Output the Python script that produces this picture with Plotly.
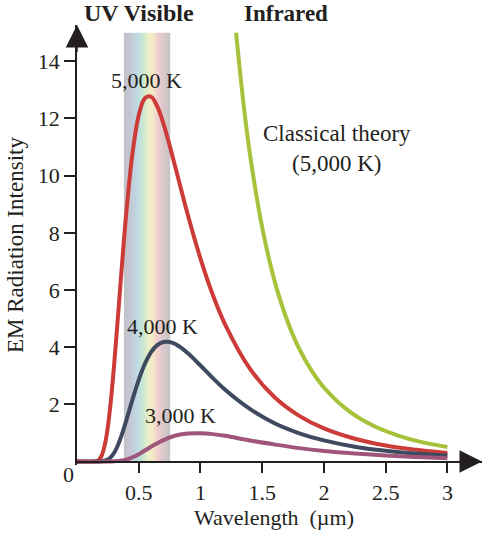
import plotly.graph_objects as go

# wavelengths (um) and intensities
wl_5000 = [0, 0.1, 0.15, 0.175, 0.2, 0.225, 0.25, 0.275, 0.3, 0.325, 0.35, 0.375, 0.4, 0.45, 0.5, 0.55,
           0.6, 0.65, 0.7, 0.75, 0.8, 0.9, 1.0, 1.1, 1.2, 1.4, 1.6, 1.8, 2.0, 2.25, 2.5, 2.75, 3.0]
int_5000 = [0, 0, 0.01, 0.05, 0.21, 0.58, 1.22, 2.16, 3.35, 4.70, 6.09, 7.47, 8.74, 10.80, 12.11, 12.71,
            12.76, 12.42, 11.82, 11.06, 10.24, 8.59, 7.10, 5.83, 4.79, 3.25, 2.25, 1.60, 1.16, 0.80, 0.56, 0.41, 0.30]

wl_4000 = [0, 0.15, 0.2, 0.25, 0.275, 0.3, 0.325, 0.35, 0.375, 0.4, 0.45, 0.5, 0.55, 0.6, 0.65, 0.7,
           0.75, 0.8, 0.9, 1.0, 1.1, 1.2, 1.4, 1.6, 1.8, 2.0, 2.25, 2.5, 2.75, 3.0]
int_4000 = [0, 0, 0.01, 0.07, 0.16, 0.30, 0.51, 0.78, 1.10, 1.45, 2.18, 2.86, 3.42, 3.83, 4.07, 4.18,
            4.18, 4.10, 3.78, 3.36, 2.92, 2.51, 1.84, 1.34, 0.99, 0.74, 0.52, 0.38, 0.28, 0.21]

wl_3000 = [0, 0.25, 0.3, 0.35, 0.4, 0.45, 0.5, 0.55, 0.6, 0.65, 0.7, 0.8, 0.9, 1.0, 1.1, 1.2,
           1.4, 1.6, 1.8, 2.0, 2.25, 2.5, 2.75, 3.0]
int_3000 = [0, 0, 0.01, 0.03, 0.07, 0.15, 0.26, 0.39, 0.52, 0.64, 0.75, 0.91, 0.98, 0.99, 0.96, 0.90,
            0.74, 0.60, 0.47, 0.37, 0.28, 0.21, 0.16, 0.12]

wl_classical = [1.288, 1.3, 1.35, 1.4, 1.5, 1.6, 1.7, 1.8, 1.9, 2.0, 2.2, 2.4, 2.6, 2.8, 3.0]
int_classical = [15.0, 14.49, 12.46, 10.77, 8.18, 6.32, 4.96, 3.94, 3.18, 2.59, 1.77, 1.25, 0.91, 0.67, 0.51]

visible_range = [0.38, 0.755]
visible_top = 15.0
visible_colors = [[0, "#c2c2c6"], [0.14, "#c4c7d2"], [0.28, "#bdd9e4"], [0.4, "#c6e6d4"],
                  [0.52, "#e8efc6"], [0.62, "#f4eac6"], [0.73, "#f0cece"], [0.86, "#d9c7ca"], [1, "#c4c4c4"]]

x_ticks = [0.5, 1, 1.5, 2, 2.5, 3]
x_labels = ["0.5", "1", "1.5", "2", "2.5", "3"]
y_ticks = [2, 4, 6, 8, 10, 12, 14]

x_max = 3.28
y_min, y_max = -0.12, 15.27
ink = "#231f20"
serif = "Liberation Serif"

fig = go.Figure()

# visible band
fig.add_trace(go.Scatter(
    x=[visible_range[0], visible_range[1], visible_range[1], visible_range[0], visible_range[0]],
    y=[0, 0, visible_top, visible_top, 0],
    mode="lines", line=dict(width=0), fill="toself",
    fillgradient=dict(type="horizontal", colorscale=visible_colors),
    hoverinfo="skip"))

fig.add_trace(go.Scatter(x=wl_5000, y=int_5000, mode="lines",
                         line=dict(color="#cc3b37", width=4, shape="spline")))
fig.add_trace(go.Scatter(x=wl_4000, y=int_4000, mode="lines",
                         line=dict(color="#3f4a60", width=4, shape="spline")))
fig.add_trace(go.Scatter(x=wl_3000, y=int_3000, mode="lines",
                         line=dict(color="#a0557a", width=4, shape="spline")))
fig.add_trace(go.Scatter(x=wl_classical, y=int_classical, mode="lines",
                         line=dict(color="#a5c23a", width=4, shape="spline")))

fig.update_layout(
    width=486, height=534,
    margin=dict(l=77, r=4, t=25, b=69),
    plot_bgcolor="white", paper_bgcolor="white",
    showlegend=False,
    font=dict(family=serif, color=ink),
)
fig.update_xaxes(range=[0, x_max], tickvals=x_ticks, ticktext=x_labels,
                 ticks="outside", ticklen=11, tickwidth=1.5, tickcolor=ink,
                 showline=True, linecolor=ink, linewidth=1.5,
                 showgrid=False, zeroline=False, automargin=False,
                 anchor="free", position=(0 - y_min) / (y_max - y_min),
                 tickfont=dict(size=22, family=serif, color=ink))
fig.update_yaxes(range=[y_min, y_max], tickvals=y_ticks,
                 ticks="outside", ticklen=11, tickwidth=1.5, tickcolor=ink,
                 showline=True, linecolor=ink, linewidth=1.5,
                 showgrid=False, zeroline=False, automargin=False,
                 tickfont=dict(size=22, family=serif, color=ink))

# axis arrows
fig.add_annotation(x=x_max, y=0, ax=x_max - 0.2, ay=0, axref="x", ayref="y", text="",
                   showarrow=True, arrowhead=2, arrowsize=3, arrowwidth=1.5, arrowcolor=ink)
fig.add_annotation(x=0, y=y_max, ax=0, ay=y_max - 1, axref="x", ayref="y", text="",
                   showarrow=True, arrowhead=2, arrowsize=3, arrowwidth=1.5, arrowcolor=ink)

fig.add_annotation(x=0, y=0, text="0", showarrow=False, xshift=-9, yshift=-13,
                   font=dict(size=22))

# axis titles
fig.add_annotation(xref="paper", yref="paper", x=0, y=0.5, xshift=-62, xanchor="center",
                   text="EM Radiation Intensity", textangle=-90, showarrow=False,
                   font=dict(size=23))
fig.add_annotation(xref="paper", yref="paper", x=0.487, y=0, yshift=-52, yanchor="middle",
                   text="Wavelength  (µm)", showarrow=False, font=dict(size=22))

# curve labels
fig.add_annotation(x=0.56, y=13.34, text="5,000 K", showarrow=False, font=dict(size=22))
fig.add_annotation(x=0.693, y=4.71, text="4,000 K", showarrow=False, font=dict(size=22))
fig.add_annotation(x=0.835, y=1.6, text="3,000 K", showarrow=False, font=dict(size=22))
fig.add_annotation(x=2.107, y=10.95, text="Classical theory<br>(5,000 K)", showarrow=False,
                   font=dict(size=23))

# region labels
fig.add_annotation(x=0.506, xref="x", y=1, yref="paper", yshift=12, yanchor="middle",
                   text="<b>UV Visible</b>", showarrow=False, font=dict(size=24))
fig.add_annotation(x=1.69, xref="x", y=1, yref="paper", yshift=12, yanchor="middle",
                   text="<b>Infrared</b>", showarrow=False, font=dict(size=23))

# drop the page's default body margin so the figure fills the window
fig.write_html("out.html", config={"displayModeBar": False},
               post_script="document.body.style.margin = '0';")
